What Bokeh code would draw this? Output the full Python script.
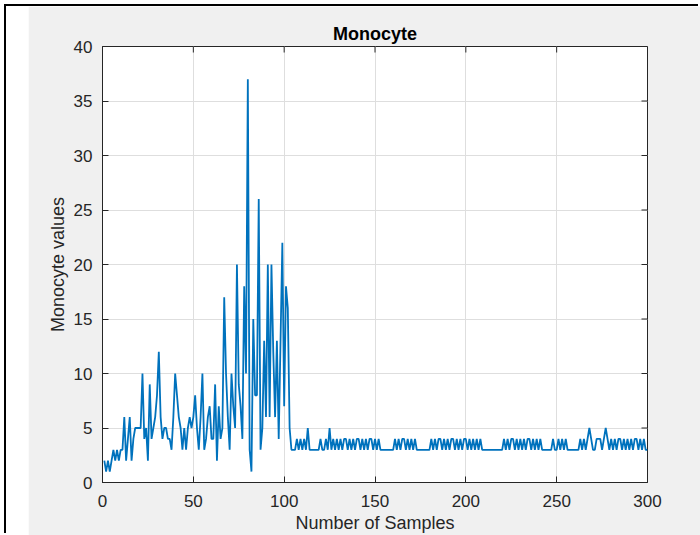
from bokeh.plotting import figure
from bokeh.models import FixedTicker, Range1d
from bokeh.embed import file_html
from bokeh.resources import INLINE

# Monocyte values, sample by sample (1..300)
monocyte = [
    2, 1, 2, 1, 2, 3, 2, 3, 2, 3,
    3, 6, 2, 4, 6, 2, 4, 5, 5, 5,
    5, 10, 4, 5, 2, 9, 4, 5, 6, 8,
    12, 6, 4, 5, 5, 4, 4, 3, 6, 10,
    8, 6, 5, 3, 5, 3, 5, 6, 5, 6,
    8, 5, 3, 6, 10, 3, 4, 6, 7, 4,
    4, 9, 2, 7, 4, 5, 17, 10, 6, 3,
    10, 7, 5, 20, 9, 7, 4, 18, 10, 37,
    3, 1, 15, 8, 8, 26, 3, 5, 13, 6,
    20, 6, 20, 12, 6, 13, 4, 13, 22, 7,
    18, 16, 5, 3, 3, 3, 4, 3, 4, 3,
    4, 3, 5, 3, 3, 3, 3, 3, 3, 4,
    3, 3, 4, 3, 5, 3, 4, 3, 4, 3,
    4, 3, 4, 4, 3, 4, 3, 4, 3, 4,
    4, 3, 4, 3, 4, 3, 4, 4, 3, 4,
    3, 4, 3, 3, 3, 3, 3, 3, 3, 3,
    4, 3, 4, 3, 4, 4, 3, 4, 3, 4,
    3, 4, 3, 3, 3, 3, 3, 3, 3, 3,
    4, 3, 4, 3, 4, 4, 3, 4, 3, 4,
    3, 4, 4, 3, 4, 3, 4, 3, 4, 4,
    3, 4, 3, 4, 3, 4, 3, 4, 3, 3,
    3, 3, 3, 3, 3, 3, 3, 3, 3, 3,
    4, 3, 4, 3, 4, 4, 3, 4, 3, 4,
    3, 4, 3, 4, 4, 3, 4, 3, 4, 3,
    4, 3, 3, 3, 3, 3, 3, 4, 3, 3,
    4, 3, 4, 3, 4, 3, 3, 3, 3, 3,
    3, 3, 4, 3, 4, 3, 4, 5, 4, 3,
    3, 4, 4, 4, 3, 4, 5, 4, 3, 4,
    3, 4, 3, 4, 4, 3, 4, 3, 4, 3,
    4, 3, 4, 4, 3, 4, 3, 4, 3, 3,
]
samples = list(range(1, len(monocyte) + 1))

x_ticks = [0, 50, 100, 150, 200, 250, 300]
y_ticks = [0, 5, 10, 15, 20, 25, 30, 35, 40]
x_lim = (0, 300)
y_lim = (0, 40)

title_text = "Monocyte"
x_label = "Number of Samples"
y_label = "Monocyte values"

FONT = "Liberation Sans"
AX = "#262626"

W, H = 694, 529
ML, MR, MT, MB = 74, 75, 40, 53
TICK = 6  # px, inward ticks

p = figure(
    width=W, height=H,
    output_backend="svg", toolbar_location=None,
    x_range=Range1d(*x_lim), y_range=Range1d(*y_lim),
    min_border_left=ML, min_border_right=MR,
    min_border_top=MT, min_border_bottom=MB,
)
# white strip on the left and thin black frame lines at the left / top edge
p.styles = {
    "margin-left": "6px",
    "margin-top": "6px",
    "border-left": "22px solid #ffffff",
    "box-shadow": "-2px -2px 0 0 #000000",
}

p.border_fill_color = "#f0f0f0"
p.background_fill_color = "#ffffff"
p.outline_line_color = AX
p.outline_line_width = 1

p.title.text = title_text
p.title.text_font = FONT
p.title.text_font_size = "18px"
p.title.text_font_style = "bold"
p.title.text_color = "#000000"
p.title.align = "center"
p.title.standoff = 5

bottom = p.below[0]
left = p.left[0]
bottom.ticker = FixedTicker(ticks=x_ticks)
left.ticker = FixedTicker(ticks=y_ticks)

for ax in [bottom, left]:
    ax.axis_line_color = AX
    ax.major_tick_line_color = AX
    ax.major_tick_in = TICK
    ax.major_tick_out = 0
    ax.minor_tick_line_color = None
    ax.major_label_text_font = FONT
    ax.major_label_text_font_size = "17px"
    ax.major_label_text_color = AX
    ax.axis_label_text_font = FONT
    ax.axis_label_text_font_size = "18px"
    ax.axis_label_text_font_style = "normal"
    ax.axis_label_text_color = AX

bottom.major_label_standoff = 12
bottom.axis_label_standoff = 3
left.major_label_standoff = 10
left.axis_label_standoff = 3

bottom.axis_label = x_label
left.axis_label = y_label

# inward tick marks on the top and right edges of the box
frame_w = W - ML - MR
frame_h = H - MT - MB
dy = TICK * (y_lim[1] - y_lim[0]) / frame_h
dx = TICK * (x_lim[1] - x_lim[0]) / frame_w
p.segment(x0=x_ticks, y0=[y_lim[1]] * len(x_ticks),
          x1=x_ticks, y1=[y_lim[1] - dy] * len(x_ticks),
          line_color=AX, line_width=1)
p.segment(x0=[x_lim[1]] * len(y_ticks), y0=y_ticks,
          x1=[x_lim[1] - dx] * len(y_ticks), y1=y_ticks,
          line_color=AX, line_width=1)

p.xgrid.ticker = FixedTicker(ticks=x_ticks)
p.ygrid.ticker = FixedTicker(ticks=y_ticks)
p.grid.grid_line_color = "#dedede"
p.grid.grid_line_width = 1

p.line(samples, monocyte, line_color="#0072BD", line_width=1.8)

open("out.html", "w").write(file_html(p, INLINE))
